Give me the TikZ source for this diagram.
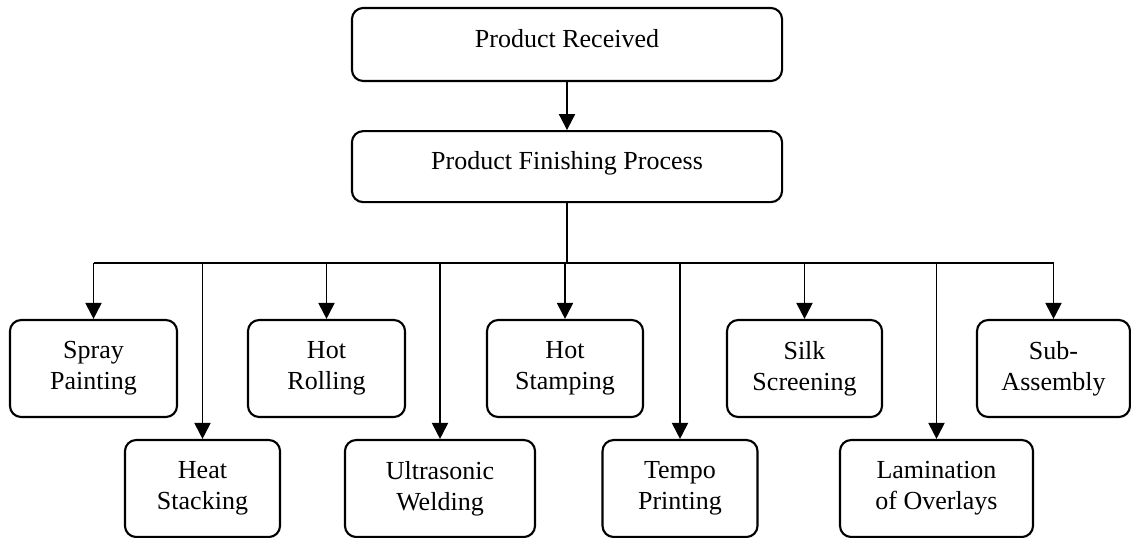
\documentclass[tikz,border=0pt]{standalone}
\usepackage{fontspec}
\setmainfont{Liberation Serif}
\usetikzlibrary{positioning, calc, arrows.meta}
\tikzset{
	stage/.style={
		draw,
		rounded corners=0.28cm,
		line width=1.5pt,
		align=center,
		font=\fontsize{18.5}{22}\selectfont,
		minimum width=10.75cm,
		text height=0.45cm,
		text depth=0.3cm
	},
	task/.style={
		draw,
		rounded corners=0.28cm,
		line width=1.5pt,
		align=center,
		font=\fontsize{18.5}{22}\selectfont,
		minimum height=2.425cm
	},
	flow/.style={
		line width=1.4pt,
		-{Triangle[width=0.4cm, length=0.4cm]}
	}
}
\begin{document}
\begin{tikzpicture}[x=0.025cm, y=-0.025cm]
		\useasboundingbox (0,0) rectangle (1131,538);

		\begin{scope}[node distance=1.2cm]
		\node[stage, minimum height=1.825cm] (received) at (567,44.5) {Product Received};
		\node[stage, minimum height=1.775cm, below=of received] (finishing) {Product Finishing Process};
		\end{scope}

		% finishing operations, upper row
		\node[task, minimum width=4.175cm] (spray) at (93.5,368.5) {Spray\\Painting};
		\node[task, minimum width=3.925cm] (rolling) at (326.5,368.5) {Hot\\Rolling};
		\node[task, minimum width=3.9cm] (stamping) at (565,368.5) {Hot\\Stamping};
		\node[task, minimum width=3.875cm] (silk) at (804.5,368.5) {Silk\\Screening};
		\node[task, minimum width=3.825cm] (subasm) at (1053.5,368.5) {Sub-\\Assembly};

		% finishing operations, lower row
		\node[task, minimum width=3.875cm] (heat) at (202.5,488.5) {Heat\\Stacking};
		\node[task, minimum width=4.75cm] (ultra) at (440,488.5) {Ultrasonic\\Welding};
		\node[task, minimum width=3.875cm] (tempo) at (680,488.5) {Tempo\\Printing};
		\node[task, minimum width=4.825cm] (lamination) at (936.5,488.5) {Lamination\\of Overlays};

		% trunk and distribution bus
		\coordinate (bus) at ($(finishing.south)+(0,60)$);
		\draw[flow] (received) -- (finishing);
		\draw[line width=1.4pt] (finishing.south) -- (bus);
		\draw[line width=1.4pt] (spray.north |- bus) -- (subasm.north |- bus);

		\foreach \op in {spray,heat,rolling,ultra,stamping,tempo,silk,lamination,subasm} {
			\draw[flow] (\op.north |- bus) -- (\op.north);
		}
\end{tikzpicture}
\end{document}
